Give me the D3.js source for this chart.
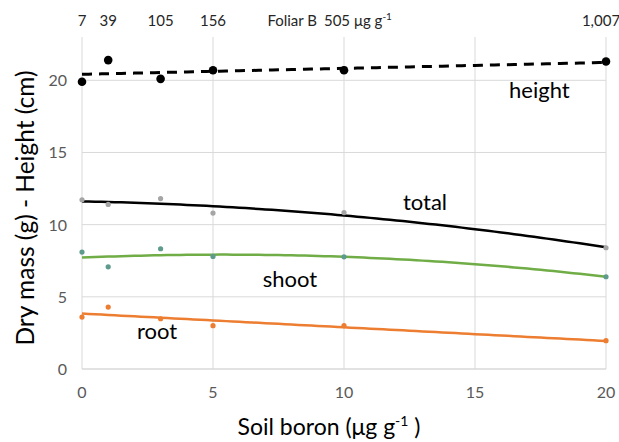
<!DOCTYPE html>
<html>
<head>
<meta charset="utf-8">
<script src="https://cdn.jsdelivr.net/npm/d3@7"></script>
<style>
  body { margin: 0; background: #fff; }
  text { font-family: Lato, "Open Sans", sans-serif; }
</style>
</head>
<body>
<script>
// soil boron levels (ug/g) and matching foliar B labels
const soilB = [0, 1, 3, 5, 10, 20];
const foliarB = ["7", "39", "105", "156", "505", "1,007"];
const height = [19.9, 21.4, 20.1, 20.7, 20.7, 21.3];
const total = [11.72, 11.4, 11.81, 10.8, 10.84, 8.4];
const shoot = [8.1, 7.08, 8.33, 7.8, 7.77, 6.39];
const root = [3.6, 4.29, 3.48, 3.0, 3.0, 1.96];
const xTicks = [0, 5, 10, 15, 20];
const yTicks = [0, 5, 10, 15, 20];

const w = 619, h = 442;
const margin = {top: 37, right: 13, bottom: 73, left: 82};

const svg = d3.select("body").append("svg")
  .attr("width", w)
  .attr("height", h);

const x = d3.scaleLinear().domain([0, 20]).range([margin.left, w - margin.right]);
const y = d3.scaleLinear().domain([0, 23]).range([h - margin.bottom, margin.top]);

// least squares polynomial fit (trendlines)
function polyfit(xs, ys, deg) {
  const n = deg + 1;
  const A = [];
  for (let i = 0; i < n; i++) {
    A.push([]);
    for (let j = 0; j < n; j++) A[i].push(d3.sum(xs, v => Math.pow(v, i + j)));
    A[i].push(d3.sum(xs, (v, k) => Math.pow(v, i) * ys[k]));
  }
  for (let i = 0; i < n; i++) {
    for (let k = i + 1; k < n; k++) {
      const f = A[k][i] / A[i][i];
      for (let j = i; j <= n; j++) A[k][j] -= f * A[i][j];
    }
  }
  const c = new Array(n).fill(0);
  for (let i = n - 1; i >= 0; i--) {
    let s = A[i][n];
    for (let j = i + 1; j < n; j++) s -= A[i][j] * c[j];
    c[i] = s / A[i][i];
  }
  return v => c.reduce((acc, ci, i) => acc + ci * Math.pow(v, i), 0);
}

// gridlines
svg.append("g").selectAll("line")
  .data(yTicks.filter(d => d > 0))
  .join("line")
  .attr("x1", x(0)).attr("x2", x(20))
  .attr("y1", d => y(d)).attr("y2", d => y(d))
  .attr("stroke", "#d9d9d9").attr("stroke-width", 1);

svg.append("g").selectAll("line")
  .data(xTicks)
  .join("line")
  .attr("x1", d => x(d)).attr("x2", d => x(d))
  .attr("y1", y(0)).attr("y2", y(23))
  .attr("stroke", "#d9d9d9").attr("stroke-width", 1);

// bottom axis line
svg.append("line")
  .attr("x1", x(0)).attr("x2", x(20))
  .attr("y1", y(0)).attr("y2", y(0))
  .attr("stroke", "#d9d9d9").attr("stroke-width", 1.3);

// tick labels
svg.append("g").selectAll("text")
  .data(xTicks)
  .join("text")
  .attr("x", d => x(d)).attr("y", y(0) + 29)
  .attr("text-anchor", "middle")
  .style("font-size", "16px").style("fill", "#595959")
  .text(d => d);

svg.append("g").selectAll("text")
  .data(yTicks)
  .join("text")
  .attr("x", x(0) - 15).attr("y", d => y(d) + 6)
  .attr("text-anchor", "end")
  .style("font-size", "16px").style("fill", "#595959")
  .text(d => d);

// top labels: foliar B
const topAxis = svg.append("g");
topAxis.selectAll("text")
  .data(foliarB)
  .join("text")
  .attr("x", (d, i) => x(soilB[i]) - (i == 4 ? 7 : i == 5 ? 5 : 0))
  .attr("y", 26)
  .attr("text-anchor", "middle")
  .style("font-size", "15px").style("fill", "#262626")
  .text(d => d);
topAxis.append("text")
  .attr("x", x(10) - 27).attr("y", 26)
  .attr("text-anchor", "end")
  .style("font-size", "15px").style("fill", "#262626")
  .text("Foliar B");
const unit = topAxis.append("text")
  .attr("x", x(10) + 10).attr("y", 26)
  .style("font-size", "15px").style("fill", "#262626");
unit.append("tspan").text("μg g");
unit.append("tspan").attr("dy", -6).style("font-size", "10px").text("-1");

// trendlines
const xs = d3.range(0, 20.01, 0.25);
const lineFor = f => d3.line().x(v => x(v)).y(v => y(f(v)))(xs);

svg.append("path").attr("d", lineFor(polyfit(soilB, total, 2)))
  .attr("fill", "none").attr("stroke", "#000").attr("stroke-width", 2.5);
svg.append("path").attr("d", lineFor(polyfit(soilB, shoot, 2)))
  .attr("fill", "none").attr("stroke", "#70ad47").attr("stroke-width", 2.5);
svg.append("path").attr("d", lineFor(polyfit(soilB, root, 1)))
  .attr("fill", "none").attr("stroke", "#ed7d31").attr("stroke-width", 2.5);
svg.append("path").attr("d", lineFor(polyfit(soilB, height, 1)))
  .attr("fill", "none").attr("stroke", "#000").attr("stroke-width", 3)
  .attr("stroke-dasharray", "10,7");

// points
function points(vals, color, r) {
  svg.append("g").selectAll("circle")
    .data(vals)
    .join("circle")
    .attr("cx", (d, i) => x(soilB[i]))
    .attr("cy", d => y(d))
    .attr("r", r)
    .attr("fill", color);
}
points(total, "#a5a5a5", 2.6);
points(shoot, "#5f9b8c", 2.6);
points(root, "#ed7d31", 2.6);
points(height, "#000", 4.3);

// series labels
const labels = [
  {t: "height", x: 16.3, y: 18.8},
  {t: "total", x: 12.25, y: 11.0},
  {t: "shoot", x: 6.9, y: 5.68},
  {t: "root", x: 2.1, y: 2.08}
];
svg.append("g").selectAll("text")
  .data(labels)
  .join("text")
  .attr("x", d => x(d.x)).attr("y", d => y(d.y))
  .style("font-size", "22px").style("fill", "#000")
  .text(d => d.t);

// axis titles
const xt = svg.append("text")
  .attr("x", 329).attr("y", 435)
  .attr("text-anchor", "middle")
  .style("font-size", "23px").style("fill", "#000");
xt.append("tspan").text("Soil boron (μg g");
xt.append("tspan").attr("dy", -9).style("font-size", "14px").text("-1");
xt.append("tspan").attr("dy", 9).text(" )");

svg.append("text")
  .attr("transform", `translate(34,${(y(0) + y(23)) / 2 + 5}) rotate(-90)`)
  .attr("text-anchor", "middle")
  .style("font-size", "24.5px").style("fill", "#000")
  .text("Dry mass (g)  - Height (cm)");
</script>
</body>
</html>
